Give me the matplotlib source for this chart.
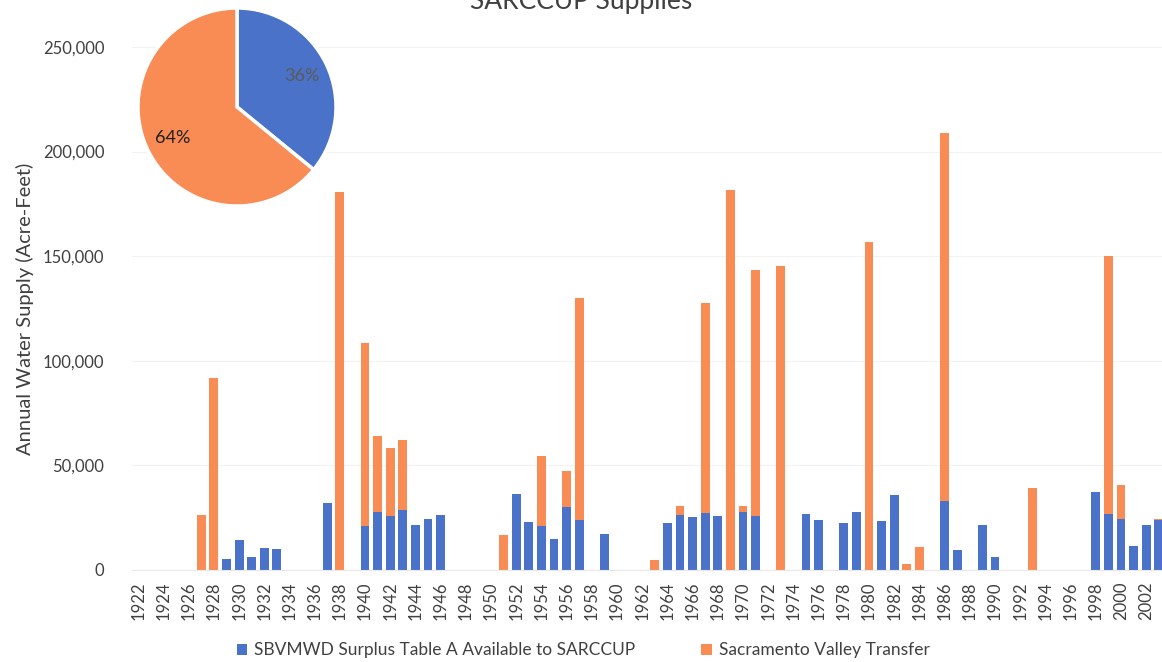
import numpy as np
import matplotlib.pyplot as plt
from matplotlib.ticker import FuncFormatter

plt.rcParams['font.family'] = ['Lato', 'DejaVu Sans']

years = np.arange(1922, 2004)

# SBVMWD Surplus Table A Available to SARCCUP (acre-feet), one value per year 1922-2003
surplus = [
    0, 0, 0, 0, 0, 0, 0, 5300, 14300, 6400,            # 1922-1931
    10700, 10000, 0, 0, 0, 32200, 0, 0, 21200, 27600,  # 1932-1941
    26000, 28800, 21400, 24200, 26100, 0, 0, 0, 0, 0,  # 1942-1951
    36100, 23000, 20800, 14700, 30300, 23700, 0, 17300, 0, 0,  # 1952-1961
    0, 0, 22400, 26500, 25200, 27200, 26000, 0, 27800, 26000,  # 1962-1971
    0, 0, 0, 27000, 23700, 0, 22600, 27900, 0, 23300,  # 1972-1981
    35900, 0, 0, 0, 33100, 9400, 0, 21500, 6000, 0,    # 1982-1991
    0, 0, 0, 0, 0, 0, 37300, 26600, 24500, 11500,      # 1992-2001
    21700, 23900,                                      # 2002-2003
]

# Sacramento Valley Transfer (acre-feet)
transfer = [
    0, 0, 0, 0, 0, 26300, 91900, 0, 0, 0,              # 1922-1931
    0, 0, 0, 0, 0, 0, 180500, 0, 87100, 36300,         # 1932-1941
    32200, 33500, 0, 0, 0, 0, 0, 0, 0, 16600,          # 1942-1951
    0, 0, 33800, 0, 16800, 106300, 0, 0, 0, 0,         # 1952-1961
    0, 5000, 0, 4300, 0, 100300, 0, 181500, 3000, 117500,  # 1962-1971
    0, 145500, 0, 0, 0, 0, 0, 0, 157000, 0,            # 1972-1981
    0, 3000, 10800, 0, 175900, 0, 0, 0, 0, 0,          # 1982-1991
    0, 39200, 0, 0, 0, 0, 0, 123400, 16000, 0,         # 1992-2001
    0, 600,                                            # 2002-2003
]

labels = ['SBVMWD Surplus Table A Available to SARCCUP', 'Sacramento Valley Transfer']
blue = '#4a72c8'
orange = '#f98b55'

fig = plt.figure(figsize=(11.62, 6.62), dpi=100)
ax = fig.add_axes([132 / 1162, 92 / 662, 1 - 132 / 1162, 523 / 662])

ax.bar(years, surplus, width=0.7, color=blue, label=labels[0])
ax.bar(years, transfer, width=0.7, bottom=surplus, color=orange, label=labels[1])

ax.set_xlim(1921.5, 2003.25)
ax.set_ylim(0, 250000)
ax.set_yticks(np.arange(0, 250001, 50000))
ax.yaxis.set_major_formatter(FuncFormatter(lambda v, p: f'{int(v):,}'))
ax.set_xticks(years[::2])
ax.set_xticklabels([str(y) for y in years[::2]], rotation=90)
ax.tick_params(axis='both', length=0, labelsize=12, colors='#404040')
ax.tick_params(axis='x', pad=8)
ax.tick_params(axis='y', pad=20)
ax.grid(axis='y', color='#f2f2f2', linewidth=0.8)
ax.set_axisbelow(True)
for s in ['top', 'right', 'left']:
    ax.spines[s].set_visible(False)
ax.spines['bottom'].set_color('#e8e8e8')

ax.set_ylabel('Annual Water Supply (Acre-Feet)', fontsize=14.5, color='#404040', labelpad=6)

fig.text(0.5, 0.986, 'SARCCUP Supplies', ha='center', va='baseline', fontsize=19, color='#404040')

fig.legend(loc='lower center', bbox_to_anchor=(0.502, -0.018), ncol=2, frameon=False,
           fontsize=12.5, handlelength=0.6, handleheight=0.6, columnspacing=3.8,
           handletextpad=0.4, labelcolor='#404040')

# pie inset with total shares
pax = fig.add_axes([137 / 1162, 1 - 207 / 662, 200 / 1162, 200 / 662])
totals = [sum(surplus), sum(transfer)]
wedges, texts, autotexts = pax.pie(totals, colors=[blue, orange], startangle=90, counterclock=False,
                                   autopct='%1.0f%%', pctdistance=0.72,
                                   wedgeprops={'edgecolor': 'white', 'linewidth': 2.5})
autotexts[0].set_color('#5a5a5a')
autotexts[1].set_color('#202020')
for t in autotexts:
    t.set_fontsize(13)
pax.set_xlim(-1.01, 1.01)
pax.set_ylim(-1.01, 1.01)
pax.set_aspect('equal')

fig.savefig('out.png', dpi=100)
